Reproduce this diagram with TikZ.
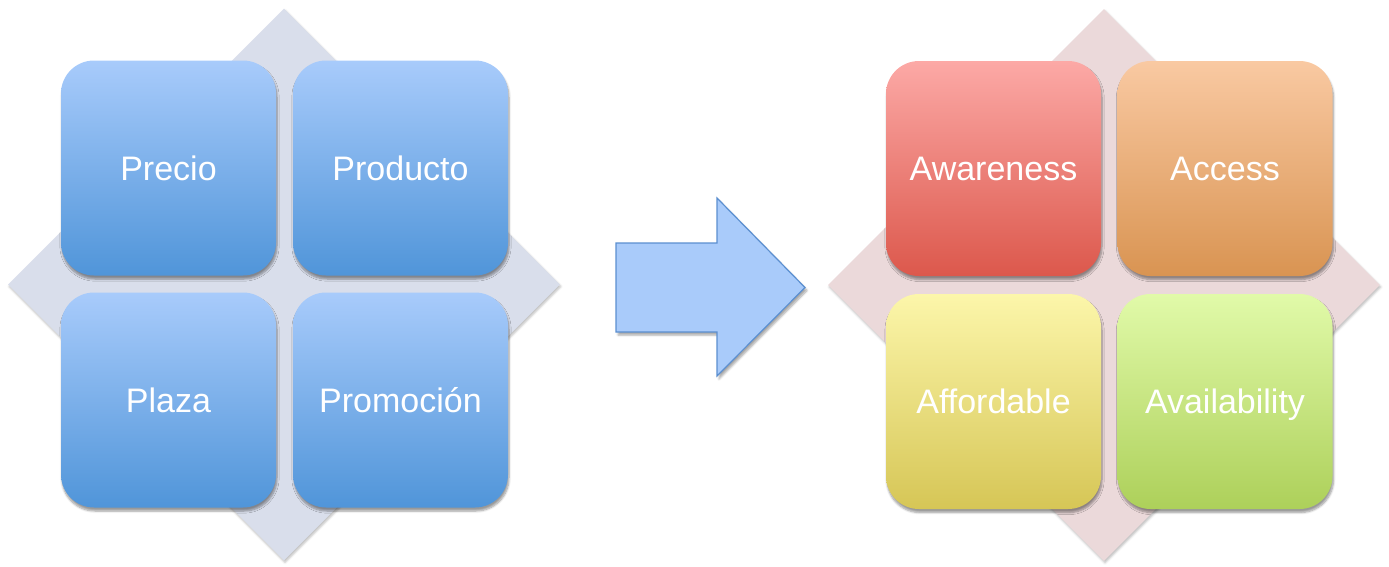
\documentclass[tikz,border=0pt]{standalone}
\usepackage{fontspec}
\setmainfont{Liberation Sans}
\usetikzlibrary{shapes.geometric,shadows.blur}

\definecolor{diamL}{HTML}{D9DEEB}
\definecolor{diamR}{HTML}{EBD9DA}
\definecolor{blueT}{HTML}{A8CBFB}
\definecolor{blueB}{HTML}{5095D9}
\definecolor{redT}{HTML}{FCA9A6}
\definecolor{redB}{HTML}{DC584C}
\definecolor{oraT}{HTML}{F9C9A2}
\definecolor{oraB}{HTML}{D99452}
\definecolor{yelT}{HTML}{FCF6AA}
\definecolor{yelB}{HTML}{D6C656}
\definecolor{grnT}{HTML}{E1FAA9}
\definecolor{grnB}{HTML}{ADD05A}
\definecolor{arrFill}{HTML}{A9CBFA}
\definecolor{arrLine}{HTML}{5B8FD0}

\tikzset{
  backdiamond/.style={diamond, minimum width=552pt, minimum height=552pt,
    inner sep=0pt, blur shadow={shadow xshift=1pt, shadow yshift=-2pt,
    shadow blur steps=4, shadow opacity=25}},
  tile/.style 2 args={rectangle, rounded corners=33pt, minimum width=215pt,
    minimum height=215pt, inner sep=0pt, top color=#1, bottom color=#2,
    text=white, font=\fontsize{34}{40}\selectfont,
    text height=24.3pt, text depth=0pt,
    blur shadow={shadow xshift=1pt, shadow yshift=-3.5pt,
    shadow blur steps=6, shadow opacity=40}},
}

\begin{document}
\begin{tikzpicture}[x=1pt, y=-1pt]
  \useasboundingbox (0,0) rectangle (1389,566);

  % left group: the four P's
  \node[backdiamond, fill=diamL] (dl) at (284,284.5) {};
  \node[tile={blueT}{blueB}] (precio)   at (168.5,168)   {Precio};
  \node[tile={blueT}{blueB}] (producto) at (400.5,168)   {Producto};
  \node[tile={blueT}{blueB}] (plaza)    at (168.5,400)   {Plaza};
  \node[tile={blueT}{blueB}] (promo)    at (400.5,400)   {Promoción};

  % block arrow between the groups
  \draw[fill=arrFill, draw=arrLine, line width=1.2pt, line join=miter,
        blur shadow={shadow xshift=2pt, shadow yshift=-3pt,
        shadow blur steps=5, shadow opacity=35}]
    (616,243) -- (717,243) -- (717,198) -- (805,287.5)
    -- (717,376) -- (717,332) -- (616,332) -- cycle;

  % right group: the four A's
  \node[backdiamond, fill=diamR] (dr) at (1104,285) {};
  \node[tile={redT}{redB}] (aware)  at (993.5,168.5)  {Awareness};
  \node[tile={oraT}{oraB}] (access) at (1225,168.5)   {Access};
  \node[tile={yelT}{yelB}] (afford) at (993.5,401.5)  {Affordable};
  \node[tile={grnT}{grnB}] (avail)  at (1225,401.5)   {Availability};
\end{tikzpicture}
\end{document}
